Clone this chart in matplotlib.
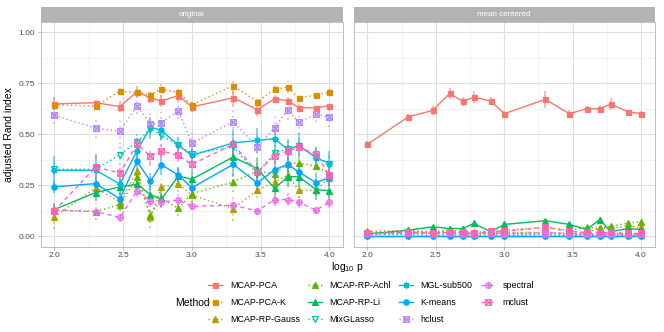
import numpy as np
import matplotlib
matplotlib.use('Agg')
import matplotlib.pyplot as plt
from matplotlib.path import Path
from matplotlib.lines import Line2D

plt.rcParams['font.family'] = ['Liberation Sans', 'DejaVu Sans']
plt.rcParams['mathtext.fontset'] = 'custom'
plt.rcParams['mathtext.rm'] = 'Liberation Sans'

# number of variables p (x axis is log10 p)
p = [100, 200, 300, 400, 500, 600, 800, 1000, 2000, 3000, 4000, 5000, 6000, 8000, 10000]

methods = ['MCAP-PCA', 'MCAP-PCA-K', 'MCAP-RP-Gauss', 'MCAP-RP-Achl', 'MCAP-RP-Li',
           'MixGLasso', 'MGL-sub500', 'K-means', 'hclust', 'spectral', 'mclust']
colors = ['#F8766D', '#DB8E00', '#AEA200', '#64B200', '#00BD5C',
          '#00C1A7', '#00BADE', '#00A6FF', '#B385FF', '#EF67EB', '#FF63B6']

# panel "original"
orig_pca = [0.649, 0.655, 0.636, 0.709, 0.678, 0.663, 0.690, 0.634, 0.679, 0.621, 0.674, 0.665, 0.631, 0.629, 0.641]
orig_pca_k = [0.645, 0.638, 0.712, 0.705, 0.695, 0.721, 0.705, 0.645, 0.738, 0.660, 0.721, 0.731, 0.679, 0.692, 0.705]
orig_gauss = [0.096, 0.238, 0.169, 0.319, 0.093, 0.240, 0.259, 0.202, 0.137, 0.226, 0.267, 0.300, 0.226, 0.226, 0.288]
orig_achl = [0.129, 0.122, 0.156, 0.290, 0.104, 0.186, 0.138, 0.210, 0.267, 0.320, 0.308, 0.357, 0.360, 0.345, 0.308]
orig_li = [0.132, 0.215, 0.243, 0.256, 0.205, 0.182, 0.296, 0.280, 0.389, 0.332, 0.235, 0.293, 0.293, 0.230, 0.224]
orig_mixglasso = [0.329, 0.329, 0.400, 0.463, 0.528, 0.495, 0.446, 0.405, 0.438, 0.308, 0.410, 0.430, 0.443, 0.389, 0.357]
orig_mgl = [0.324, 0.324, 0.257, 0.420, 0.535, 0.520, 0.446, 0.397, 0.458, 0.470, 0.479, 0.425, 0.446, 0.386, 0.357]
orig_kmeans = [0.243, 0.259, 0.184, 0.368, 0.270, 0.352, 0.300, 0.238, 0.353, 0.262, 0.327, 0.353, 0.316, 0.264, 0.288]
orig_hclust = [0.593, 0.531, 0.515, 0.640, 0.549, 0.557, 0.616, 0.456, 0.562, 0.438, 0.533, 0.619, 0.560, 0.599, 0.585]
orig_spectral = [0.129, 0.122, 0.093, 0.223, 0.173, 0.169, 0.178, 0.148, 0.153, 0.125, 0.181, 0.181, 0.169, 0.129, 0.168]
orig_mclust = [0.125, 0.340, 0.311, 0.451, 0.394, 0.419, 0.397, 0.353, 0.451, 0.316, 0.396, 0.419, 0.436, 0.406, 0.300]

# half length of the error bars, panel "original"
se_pca = [0.03, 0.015, 0.025, 0.03, 0.025, 0.03, 0.03, 0.025, 0.045, 0.03, 0.02, 0.02, 0.02, 0.01, 0.01]
se_pca_k = [0.05, 0.01, 0.015, 0.02, 0.02, 0.04, 0.02, 0.02, 0.04, 0.02, 0.02, 0.03, 0.015, 0.01, 0.015]
se_gauss = [0.06, 0.05, 0.04, 0.05, 0.05, 0.04, 0.04, 0.04, 0.06, 0.04, 0.04, 0.05, 0.04, 0.03, 0.04]
se_achl = [0.04, 0.04, 0.03, 0.05, 0.04, 0.04, 0.04, 0.04, 0.05, 0.05, 0.05, 0.04, 0.04, 0.04, 0.04]
se_li = [0.03, 0.04, 0.04, 0.04, 0.04, 0.04, 0.04, 0.04, 0.05, 0.05, 0.05, 0.05, 0.05, 0.05, 0.05]
se_mixglasso = [0.03, 0.04, 0.05, 0.05, 0.05, 0.05, 0.05, 0.04, 0.05, 0.05, 0.05, 0.05, 0.05, 0.05, 0.05]
se_mgl = [0.07, 0.08, 0.05, 0.06, 0.05, 0.05, 0.04, 0.04, 0.07, 0.06, 0.06, 0.05, 0.06, 0.05, 0.06]
se_kmeans = [0.03, 0.03, 0.03, 0.05, 0.04, 0.05, 0.04, 0.03, 0.06, 0.04, 0.05, 0.05, 0.05, 0.04, 0.04]
se_hclust = [0.04, 0.05, 0.06, 0.04, 0.06, 0.06, 0.04, 0.06, 0.06, 0.06, 0.06, 0.05, 0.06, 0.04, 0.05]
se_spectral = [0.02, 0.02, 0.02, 0.03, 0.03, 0.03, 0.03, 0.02, 0.02, 0.02, 0.03, 0.03, 0.03, 0.02, 0.03]
se_mclust = [0.04, 0.06, 0.05, 0.03, 0.05, 0.03, 0.03, 0.03, 0.05, 0.04, 0.04, 0.04, 0.04, 0.03, 0.04]

# panel "mean centered"
mc_pca = [0.451, 0.586, 0.617, 0.700, 0.661, 0.682, 0.663, 0.601, 0.671, 0.601, 0.625, 0.625, 0.648, 0.611, 0.601]
mc_pca_k = [0.020, 0.026, 0.015, 0.018, 0.015, 0.008, 0.015, 0.012, 0.012, 0.012, 0.010, 0.008, 0.020, 0.008, 0.005]
mc_gauss = [0.025, 0.030, 0.020, 0.025, 0.020, 0.015, 0.020, 0.020, 0.020, 0.015, 0.020, 0.040, 0.040, 0.050, 0.045]
mc_achl = [0.015, 0.020, 0.025, 0.030, 0.025, 0.020, 0.025, 0.030, 0.045, 0.030, 0.045, 0.040, 0.050, 0.066, 0.072]
mc_li = [0.012, 0.031, 0.047, 0.039, 0.039, 0.064, 0.023, 0.059, 0.077, 0.059, 0.034, 0.083, 0.023, 0.039, 0.034]
mc_mixglasso = [0.010, 0.010, 0.005, 0.010, 0.010, 0.005, 0.010, 0.005, 0.010, 0.005, 0.005, 0.005, 0.005, 0.005, 0.005]
mc_mgl = [0.002, 0.002, 0.002, 0.002, 0.002, 0.002, 0.002, 0.002, 0.002, 0.002, 0.002, 0.002, 0.002, 0.002, 0.002]
mc_kmeans = [0.001, 0.001, 0.001, 0.001, 0.001, 0.001, 0.001, 0.001, 0.001, 0.001, 0.001, 0.001, 0.001, 0.001, 0.001]
mc_hclust = [0.015, 0.015, 0.012, 0.015, 0.012, 0.012, 0.015, 0.012, 0.012, 0.012, 0.012, 0.012, 0.012, 0.012, 0.012]
mc_spectral = [0.012, 0.018, 0.015, 0.020, 0.015, 0.012, 0.020, 0.015, 0.018, 0.015, 0.012, 0.012, 0.012, 0.010, 0.010]
mc_mclust = [0.015, 0.020, 0.018, 0.020, 0.020, 0.015, 0.025, 0.025, 0.045, 0.025, 0.020, 0.020, 0.020, 0.015, 0.015]

mc_se_pca = [0.015, 0.015, 0.02, 0.025, 0.02, 0.03, 0.02, 0.015, 0.04, 0.02, 0.015, 0.02, 0.03, 0.01, 0.015]
mc_se_small = [0.01, 0.01, 0.01, 0.01, 0.01, 0.01, 0.01, 0.01, 0.01, 0.01, 0.01, 0.01, 0.01, 0.01, 0.01]

x = np.log10(p)

orig_vals = [orig_pca, orig_pca_k, orig_gauss, orig_achl, orig_li, orig_mixglasso,
             orig_mgl, orig_kmeans, orig_hclust, orig_spectral, orig_mclust]
orig_se = [se_pca, se_pca_k, se_gauss, se_achl, se_li, se_mixglasso,
           se_mgl, se_kmeans, se_hclust, se_spectral, se_mclust]
mc_vals = [mc_pca, mc_pca_k, mc_gauss, mc_achl, mc_li, mc_mixglasso,
           mc_mgl, mc_kmeans, mc_hclust, mc_spectral, mc_mclust]
mc_se = [mc_se_pca] + [mc_se_small] * 10

dot = (0, (1, 2))
dash = (0, (3, 2.5))
styles = ['-', dot, dot, dot, '-', dot, '-', '-', dot, dash, dash]

# ggplot-like markers
sq_x = Path([(-1, -1), (1, -1), (1, 1), (-1, 1), (-1, -1), (-1, -1), (1, 1), (-1, 1), (1, -1)],
            [Path.MOVETO, Path.LINETO, Path.LINETO, Path.LINETO, Path.CLOSEPOLY,
             Path.MOVETO, Path.LINETO, Path.MOVETO, Path.LINETO])
circ_plus = Path.make_compound_path(
    Path.unit_circle(),
    Path([(-1, 0), (1, 0), (0, -1), (0, 1)], [Path.MOVETO, Path.LINETO, Path.MOVETO, Path.LINETO]))
markers = ['s', 's', '^', '^', '^', 'v', (8, 2, 0), 'o', sq_x, circ_plus, sq_x]
filled = [True, True, True, True, True, False, False, True, False, False, False]
msizes = [3.6, 3.6, 3.8, 3.8, 3.8, 3.8, 4.6, 3.8, 4.0, 4.0, 4.0]

W, H = 664, 332
fig = plt.figure(figsize=(W / 100, H / 100), dpi=100)
panel_bottom = (H - 246.7) / H
panel_h = 224.7 / H
ax1 = fig.add_axes([40.6 / W, panel_bottom, 302.4 / W, panel_h])
ax2 = fig.add_axes([353.6 / W, panel_bottom, 301.1 / W, panel_h])


def draw_panel(ax, vals, ses, title, show_y):
    for i in range(len(methods)):
        y = np.array(vals[i])
        s = np.array(ses[i])
        ax.vlines(x, y - s, y + s, colors=colors[i], linestyles=styles[i], lw=1.3, alpha=0.55, zorder=2)
        ax.plot(x, y, color=colors[i], ls=styles[i], lw=1.0, marker=markers[i], ms=msizes[i],
                mfc=colors[i] if filled[i] else 'none', mec=colors[i], mew=0.9, zorder=3)
    ax.set_xlim(1.9, 4.1)
    ax.set_ylim(-0.05, 1.05)
    ax.set_xticks([2.0, 2.5, 3.0, 3.5, 4.0])
    ax.set_xticklabels(['2.0', '2.5', '3.0', '3.5', '4.0'])
    ax.set_xticks([2.25, 2.75, 3.25, 3.75], minor=True)
    ax.set_yticks([0, 0.25, 0.5, 0.75, 1.0])
    ax.set_yticks([0.125, 0.375, 0.625, 0.875], minor=True)
    ax.set_yticklabels(['0.00', '0.25', '0.50', '0.75', '1.00'] if show_y else [])
    ax.grid(True, which='major', color='#DEDEDE', lw=0.8, zorder=0)
    ax.grid(True, which='minor', color='#EDEDED', lw=0.5, zorder=0)
    ax.set_axisbelow(True)
    ax.tick_params(which='major', length=2.5, color='#B3B3B3', width=0.6,
                   labelsize=6, labelcolor='#4D4D4D', pad=1.5)
    ax.tick_params(axis='y', which='major', length=2.5 if show_y else 0)
    ax.tick_params(which='minor', length=0)
    for sp in ax.spines.values():
        sp.set_color('#B3B3B3')
        sp.set_linewidth(0.6)
    pos = ax.get_position()
    strip = fig.add_axes([pos.x0, pos.y1, pos.width, 15.3 / H])
    strip.set_facecolor('#B3B3B3')
    strip.set_xticks([])
    strip.set_yticks([])
    for sp in strip.spines.values():
        sp.set_visible(False)
    strip.text(0.5, 0.48, title, color='white', fontsize=5.8, ha='center', va='center',
               transform=strip.transAxes)


draw_panel(ax1, orig_vals, orig_se, 'original', True)
draw_panel(ax2, mc_vals, mc_se, 'mean centered', False)

ax1.set_ylabel('adjusted Rand index', fontsize=7.5, labelpad=3)
fig.text(347.6 / W, 1 - 267 / H, r'log$_{10}$ p', fontsize=7.5, ha='center', va='center')

handles = []
for i in range(len(methods)):
    handles.append(Line2D([0], [0], color=colors[i], ls=styles[i], lw=1.0, marker=markers[i],
                          ms=msizes[i], mfc=colors[i] if filled[i] else 'none', mec=colors[i], mew=0.9))
fig.text(175 / W, 1 - 303 / H, 'Method', fontsize=7.5, ha='left', va='center')
fig.legend(handles, methods, loc='center', bbox_to_anchor=(371 / W, 1 - 302.7 / H), ncol=4,
           frameon=False, fontsize=6.4, handlelength=1.6, handletextpad=0.85, columnspacing=0.9,
           labelspacing=0.9, borderpad=0)

fig.savefig('out.png', dpi=100)
